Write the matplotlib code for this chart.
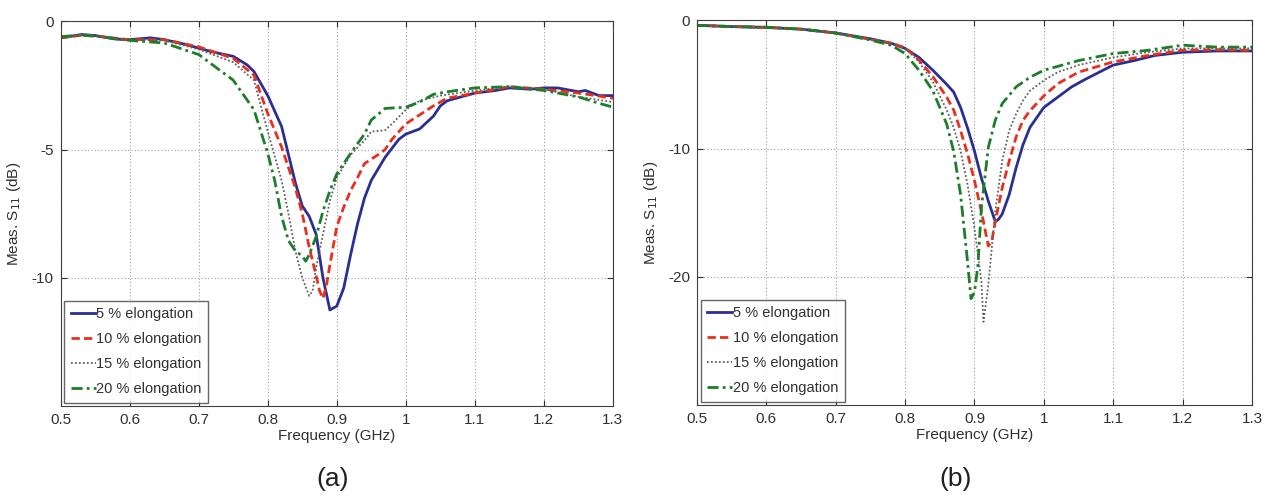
import matplotlib
matplotlib.use('Agg')
import matplotlib.pyplot as plt

FA_5 = [0.5, 0.53, 0.55, 0.58, 0.6, 0.63, 0.65, 0.68, 0.7, 0.72, 0.75, 0.77, 0.78, 0.8, 0.82, 0.83,
        0.84, 0.85, 0.86, 0.87, 0.88, 0.89, 0.9, 0.91, 0.92, 0.93, 0.94, 0.95, 0.97, 0.99, 1.0,
        1.02, 1.04, 1.05, 1.06, 1.08, 1.1, 1.13, 1.15, 1.18, 1.2, 1.22, 1.25, 1.26, 1.28, 1.3]
SA_5 = [-0.65, -0.52, -0.56, -0.7, -0.72, -0.65, -0.72, -0.9, -1.05, -1.2, -1.37, -1.7, -1.96, -2.9,
        -4.1, -5.2, -6.3, -7.2, -7.6, -8.3, -10.0, -11.25, -11.1, -10.4, -9.1, -7.9, -6.9, -6.2,
        -5.3, -4.6, -4.4, -4.2, -3.7, -3.3, -3.1, -2.95, -2.8, -2.7, -2.6, -2.65, -2.6, -2.6,
        -2.75, -2.7, -2.9, -2.9]
FA_10 = [0.5, 0.53, 0.55, 0.6, 0.65, 0.7, 0.75, 0.78, 0.8, 0.82, 0.84, 0.85, 0.86, 0.87, 0.875,
         0.88, 0.885, 0.89, 0.9, 0.91, 0.92, 0.93, 0.94, 0.96, 0.97, 0.98, 1.0, 1.02, 1.04, 1.06,
         1.1, 1.15, 1.2, 1.25, 1.3]
SA_10 = [-0.65, -0.55, -0.58, -0.72, -0.72, -1.0, -1.45, -2.1, -3.6, -4.9, -6.5, -7.5, -8.8, -9.9,
         -10.5, -10.8, -10.3, -9.5, -8.0, -7.25, -6.6, -6.1, -5.55, -5.2, -5.0, -4.6, -4.0, -3.65,
         -3.3, -3.0, -2.8, -2.55, -2.65, -2.8, -3.0]
FA_15 = [0.5, 0.53, 0.55, 0.6, 0.65, 0.7, 0.75, 0.78, 0.8, 0.82, 0.83, 0.84, 0.85, 0.86, 0.865,
         0.87, 0.88, 0.89, 0.9, 0.92, 0.94, 0.95, 0.97, 0.98, 1.0, 1.02, 1.05, 1.1, 1.15, 1.2,
         1.25, 1.3]
SA_15 = [-0.62, -0.55, -0.58, -0.72, -0.75, -1.1, -1.6, -2.3, -4.3, -6.2, -7.5, -8.95, -10.0,
         -10.7, -10.5, -9.6, -8.3, -7.0, -6.1, -5.2, -4.65, -4.3, -4.25, -4.0, -3.45, -3.1, -2.9,
         -2.7, -2.55, -2.65, -2.95, -3.15]
FA_20 = [0.5, 0.53, 0.55, 0.6, 0.65, 0.7, 0.72, 0.75, 0.78, 0.8, 0.81, 0.82, 0.83, 0.84, 0.85,
         0.855, 0.86, 0.87, 0.88, 0.89, 0.9, 0.92, 0.94, 0.95, 0.97, 1.0, 1.02, 1.04, 1.06, 1.1,
         1.15, 1.2, 1.25, 1.28, 1.3]
SA_20 = [-0.6, -0.55, -0.58, -0.75, -0.85, -1.3, -1.7, -2.3, -3.45, -5.15, -6.2, -7.6, -8.55,
         -8.95, -9.15, -9.35, -9.1, -8.4, -7.4, -6.6, -5.95, -5.15, -4.4, -3.85, -3.4, -3.35,
         -3.15, -2.85, -2.75, -2.6, -2.55, -2.7, -2.95, -3.2, -3.35]

# Panel (b)
FB_5 = [0.5, 0.55, 0.6, 0.65, 0.7, 0.75, 0.78, 0.8, 0.82, 0.84, 0.86, 0.87, 0.88, 0.89, 0.9,
        0.91, 0.92, 0.93, 0.935, 0.94, 0.95, 0.96, 0.97, 0.98, 1.0, 1.02, 1.04, 1.06, 1.08, 1.1,
        1.13, 1.16, 1.2, 1.25, 1.3]
SB_5 = [-0.4, -0.5, -0.57, -0.7, -1.0, -1.45, -1.8, -2.2, -2.9, -3.9, -5.0, -5.6, -6.8, -8.4,
        -10.2, -12.3, -14.1, -15.7, -15.5, -15.1, -13.6, -11.5, -9.7, -8.35, -6.8, -6.0, -5.2,
        -4.6, -4.05, -3.5, -3.15, -2.75, -2.5, -2.4, -2.4]
FB_10 = [0.5, 0.55, 0.6, 0.65, 0.7, 0.75, 0.78, 0.8, 0.82, 0.84, 0.86, 0.87, 0.88, 0.89, 0.9,
         0.91, 0.92, 0.925, 0.93, 0.94, 0.95, 0.96, 0.97, 0.98, 1.0, 1.02, 1.05, 1.1, 1.15, 1.2,
         1.25, 1.3]
SB_10 = [-0.4, -0.5, -0.55, -0.7, -1.0, -1.5, -1.8, -2.15, -3.1, -4.4, -6.0, -7.0, -8.6, -10.4,
         -12.5, -14.9, -17.6, -17.2, -15.7, -13.05, -11.0, -9.1, -7.8, -7.05, -5.9, -4.95, -4.05,
         -3.25, -2.75, -2.35, -2.3, -2.35]
FB_15 = [0.5, 0.55, 0.6, 0.65, 0.7, 0.75, 0.78, 0.8, 0.82, 0.84, 0.86, 0.87, 0.88, 0.89, 0.9,
         0.91, 0.913, 0.92, 0.93, 0.94, 0.95, 0.96, 0.97, 0.98, 1.0, 1.02, 1.05, 1.1, 1.15, 1.2,
         1.3]
SB_15 = [-0.4, -0.5, -0.55, -0.7, -1.0, -1.5, -1.8, -2.15, -3.25, -4.8, -7.0, -8.35, -10.2, -12.8,
         -16.2, -20.4, -23.5, -20.6, -14.9, -10.96, -8.6, -7.3, -6.25, -5.5, -4.7, -4.05, -3.5,
         -2.9, -2.5, -2.2, -2.2]
FB_20 = [0.5, 0.55, 0.6, 0.65, 0.7, 0.75, 0.78, 0.8, 0.82, 0.84, 0.85, 0.86, 0.87, 0.88, 0.89,
         0.895, 0.9, 0.905, 0.91, 0.92, 0.93, 0.94, 0.96, 0.98, 1.0, 1.05, 1.1, 1.15, 1.2, 1.25,
         1.3]
SB_20 = [-0.4, -0.5, -0.55, -0.7, -1.0, -1.55, -1.95, -2.6, -3.9, -5.5, -6.8, -8.1, -10.2, -13.6,
         -18.8, -21.7, -21.2, -19.1, -14.6, -9.9, -7.8, -6.5, -5.2, -4.45, -3.9, -3.15, -2.6,
         -2.35, -1.95, -2.1, -2.1]

LABELS = ['5 % elongation', '10 % elongation', '15 % elongation', '20 % elongation']
XTICKS = [0.5, 0.6, 0.7, 0.8, 0.9, 1.0, 1.1, 1.2, 1.3]
XTICKLABELS = ['0.5', '0.6', '0.7', '0.8', '0.9', '1', '1.1', '1.2', '1.3']

STYLES = [dict(color='#2b2f8f', linestyle='-', linewidth=2.0),
          dict(color='#e8301e', linestyle=(0, (3, 1.5)), linewidth=2.0),
          dict(color='#606060', linestyle=(0, (1, 1.2)), linewidth=1.3),
          dict(color='#1e7d2a', linestyle=(0, (4, 1.5, 1, 1.5)), linewidth=2.0)]

plt.rcParams['font.family'] = ['Liberation Sans', 'DejaVu Sans']

fig = plt.figure(figsize=(12.69, 5.04), dpi=100)
ax_a = fig.add_axes([0.0478, 0.194, 0.4352, 0.764])
ax_b = fig.add_axes([0.5492, 0.196, 0.4374, 0.764])


def setup(ax, series, ylim, yticks):
    for (f, s), lab, st in zip(series, LABELS, STYLES):
        ax.plot(f, s, label=lab, **st)
    ax.set_xlim(0.5, 1.3)
    ax.set_ylim(*ylim)
    ax.set_xticks(XTICKS)
    ax.set_xticklabels(XTICKLABELS)
    ax.set_yticks(yticks)
    ax.set_yticklabels([str(t) for t in yticks])
    ax.grid(True, linestyle=(0, (1, 2)), color='#a0a0a0', linewidth=0.8)
    ax.tick_params(direction='in', top=True, right=True, labelsize=11, length=4, pad=5,
                   colors='#303030')
    ax.set_xlabel('Frequency (GHz)', fontsize=11, labelpad=1, color='#303030')
    ax.set_ylabel('Meas. S$_{11}$ (dB)', fontsize=11, labelpad=6, color='#303030')
    for sp in ax.spines.values():
        sp.set_color('#404040')
    leg = ax.legend(loc='lower left', fontsize=10.5, handlelength=1.7, handletextpad=0.05,
                    borderaxespad=0.25, fancybox=False, edgecolor='#404040',
                    labelspacing=0.75, borderpad=0.45)
    leg.get_frame().set_linewidth(1.0)
    for t in leg.get_texts():
        t.set_color('#303030')


setup(ax_a, [(FA_5, SA_5), (FA_10, SA_10), (FA_15, SA_15), (FA_20, SA_20)],
      (-15, 0), [-10, -5, 0])
setup(ax_b, [(FB_5, SB_5), (FB_10, SB_10), (FB_15, SB_15), (FB_20, SB_20)],
      (-30, 0), [-20, -10, 0])

fig.text(0.262, 0.035, '(a)', fontsize=19, ha='center', color='#202020')
fig.text(0.753, 0.035, '(b)', fontsize=19, ha='center', color='#202020')

fig.savefig('out.png', dpi=100)
